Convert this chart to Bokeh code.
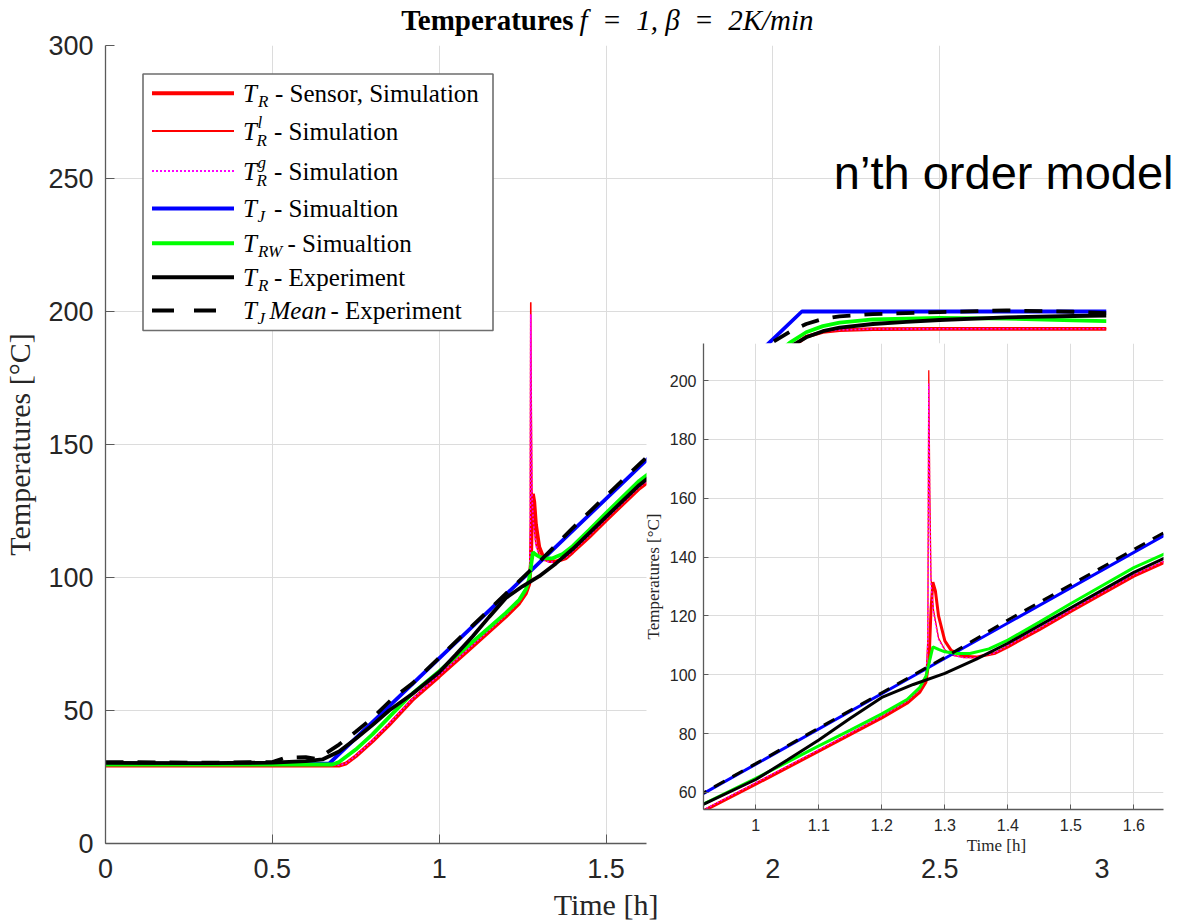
import numpy as np
from bokeh.plotting import figure
from bokeh.models import Range1d, FixedTicker, CustomJSTickFormatter, Label, Column
from bokeh.embed import file_html
from bokeh.resources import INLINE

# ---------------- data ----------------
t_TR = [0, 0.70, 0.72, 0.75, 0.80, 0.85, 0.92, 1.00, 1.10, 1.20, 1.24, 1.26, 1.27, 1.275, 1.278,
        1.281, 1.285, 1.29, 1.30, 1.31, 1.33, 1.35, 1.38, 1.40, 1.45, 1.50, 1.60, 1.65, 1.70,
        1.80, 1.90, 2.00, 2.05, 2.10, 2.15, 2.20, 2.30, 2.50, 3.00]
T_TR = [29.3, 29.3, 30.0, 32.8, 38.4, 44.6, 54.0, 62.8, 74.0, 85.3, 90.3, 94.0, 97.5, 105.0, 122.0,
        131.5, 128.5, 120.0, 111.5, 108.3, 106.3, 106.0, 107.3, 109.5, 115.3, 121.5, 133.5, 138.3, 144.0,
        156.0, 168.0, 180.3, 186.0, 190.5, 192.3, 193.0, 193.4, 193.5, 193.5]

t_TRl = [0, 0.70, 0.72, 0.75, 0.80, 0.85, 0.92, 1.00, 1.10, 1.20, 1.24, 1.26, 1.27, 1.273, 1.2745,
         1.276, 1.278, 1.282, 1.29, 1.30, 1.31, 1.33, 1.35, 1.38, 1.40, 1.45, 1.50, 1.60, 1.65,
         1.70, 1.80, 1.90, 2.00, 2.05, 2.10, 2.15, 2.20, 2.30, 2.50, 3.00]
T_TRl = [29.4, 29.4, 30.1, 33.0, 38.7, 45.0, 54.4, 63.3, 74.5, 85.9, 91.0, 95.0, 99.0, 112.0, 203.5,
         165.0, 133.0, 122.0, 112.5, 108.5, 106.8, 105.8, 105.8, 107.5, 109.9, 115.8, 122.0, 134.0, 138.8,
         144.6, 156.6, 168.6, 180.8, 186.4, 190.8, 192.5, 193.1, 193.4, 193.5, 193.5]
T_TRg = [29.4, 29.4, 30.1, 33.0, 38.7, 45.0, 54.4, 63.3, 74.5, 85.9, 91.0, 95.0, 99.0, 111.0, 199.0,
         160.0, 131.0, 121.0, 112.0, 108.3, 106.7, 105.8, 105.8, 107.5, 109.9, 115.8, 122.0, 134.0, 138.8,
         144.6, 156.6, 168.6, 180.8, 186.4, 190.8, 192.5, 193.1, 193.4, 193.5, 193.5]

t_TJ = [0, 0.67, 2.087, 3.0]
T_TJ = [30.0, 30.0, 200.0, 200.0]

t_TRW = [0, 0.68, 0.70, 0.75, 0.80, 0.85, 0.92, 1.00, 1.05, 1.10, 1.15, 1.20, 1.24, 1.26, 1.27, 1.275,
         1.281, 1.29, 1.30, 1.32, 1.34, 1.37, 1.40, 1.45, 1.50, 1.60, 1.65, 1.70, 1.80, 1.90, 2.00,
         2.05, 2.10, 2.15, 2.20, 2.30, 2.50, 2.70, 2.90, 3.00]
T_TRW = [29.7, 29.7, 30.6, 35.3, 41.0, 47.5, 56.4, 64.8, 70.3, 75.8, 81.2, 86.7, 91.6, 95.6, 99.5, 104.0,
         109.5, 108.6, 107.8, 107.2, 107.2, 108.8, 111.8, 117.9, 124.2, 136.4, 141.2, 147.0, 159.0, 171.0, 183.0,
         188.2, 192.2, 194.5, 195.8, 197.0, 197.6, 197.3, 196.7, 196.4]

t_EXP = [0, 0.30, 0.50, 0.60, 0.65, 0.70, 0.75, 0.80, 0.85, 0.92, 1.00, 1.05, 1.10, 1.15, 1.20, 1.25,
         1.30, 1.35, 1.40, 1.50, 1.60, 1.65, 1.70, 1.80, 1.90, 2.00, 2.05, 2.10, 2.15, 2.20, 2.30,
         2.40, 2.50, 2.70, 2.90, 3.00]
T_EXP = [30.3, 30.2, 30.4, 31.0, 31.6, 34.6, 39.4, 44.5, 50.0, 56.3, 64.4, 71.0, 77.8, 85.2, 92.3, 96.7,
         100.5, 105.3, 110.7, 122.8, 134.8, 139.8, 145.6, 157.6, 169.6, 181.3, 186.6, 190.3, 192.6, 193.9, 195.3,
         196.1, 196.8, 197.8, 198.3, 198.5]

t_TJM = [0, 0.30, 0.50, 0.54, 0.60, 0.63, 0.65, 0.70, 0.75, 0.80, 0.86, 0.92, 1.00, 1.10, 1.20, 1.30,
         1.40, 1.50, 1.60, 1.70, 1.80, 1.90, 2.00, 2.05, 2.10, 2.15, 2.20, 2.30, 2.40, 2.50, 2.70, 2.90, 3.00]
T_TJM = [30.6, 30.4, 30.6, 32.3, 32.5, 31.8, 33.0, 37.2, 42.0, 47.2, 54.5, 60.2, 69.8, 81.9, 93.9, 105.9,
         118.6, 130.6, 142.6, 154.6, 166.6, 178.3, 188.5, 192.3, 195.3, 197.2, 198.2, 199.0, 199.4, 199.8, 200.4, 199.9, 199.4]

main_xticks = [0, 0.5, 1, 1.5, 2, 2.5, 3]
main_yticks = [0, 50, 100, 150, 200, 250, 300]
inset_xticks = [1.0, 1.1, 1.2, 1.3, 1.4, 1.5, 1.6]
inset_yticks = [60, 80, 100, 120, 140, 160, 180, 200]

# ---------------- style ----------------
SERIF = "Liberation Serif"
SANS = "Liberation Sans"
RED, MAG, BLUE, GREEN, BLACK = "#ff0000", "#ff00ff", "#0000ff", "#00ff00", "#000000"
GRID = "#dcdcdc"
AXIS = "#5a5a5a"
TICKLAB = "#262626"
W, H = 1180, 921
LEFT = 104      # common left border (Bokeh aligns left borders inside a Column)
RIGHT = 3       # common right border

fmt = CustomJSTickFormatter(code="return String(Number(tick.toFixed(3)));")

# main frame geometry in pixels
FT, FW, FH = 45, 1001, 798
XR, YR = (0, 3), (0, 300)


def style_axes(p, xt, yt, tick_size, tick_in, xstand, ystand):
    p.xaxis.ticker = FixedTicker(ticks=xt)
    p.yaxis.ticker = FixedTicker(ticks=yt)
    p.xgrid.ticker = FixedTicker(ticks=xt)
    p.ygrid.ticker = FixedTicker(ticks=yt)
    p.xaxis.formatter = fmt
    for ax in (p.xaxis, p.yaxis):
        ax.major_tick_in = tick_in
        ax.major_tick_out = 0
        ax.minor_tick_in = 0
        ax.minor_tick_out = 0
        ax.axis_line_color = AXIS
        ax.major_tick_line_color = AXIS
        ax.axis_line_width = 1.3
        ax.major_label_text_font = SANS
        ax.major_label_text_font_size = tick_size
        ax.major_label_text_color = TICKLAB
        ax.axis_label_text_font = SERIF
        ax.axis_label_text_font_style = "normal"
        ax.axis_label_text_color = TICKLAB
    p.xaxis.major_label_standoff = xstand
    p.yaxis.major_label_standoff = ystand
    p.grid.grid_line_color = GRID
    p.grid.grid_line_width = 1
    p.outline_line_color = None


def draw_series(p, thick, thin, dash):
    p.line(t_TR, T_TR, line_color=RED, line_width=thick)
    p.line(t_TRl, T_TRl, line_color=RED, line_width=thin)
    p.line(t_TRl, T_TRg, line_color=MAG, line_width=thin, line_dash="2 2")
    p.line(t_TJ, T_TJ, line_color=BLUE, line_width=thick)
    p.line(t_TRW, T_TRW, line_color=GREEN, line_width=thick)
    p.line(t_EXP, T_EXP, line_color=BLACK, line_width=thick)
    p.line(t_TJM, T_TJM, line_color=BLACK, line_width=thick, line_dash=dash)


# ---------------- main figure ----------------
main = figure(frame_width=FW, frame_height=FH, x_range=Range1d(*XR), y_range=Range1d(*YR),
              output_backend="svg", toolbar_location=None,
              min_border_left=LEFT, min_border_top=FT, min_border_right=RIGHT,
              min_border_bottom=H - FT - FH, background_fill_color="white", border_fill_color="white")
style_axes(main, main_xticks, main_yticks, "27px", 9, 15, 12)
main.yaxis.axis_label = "Temperatures [°C]"
main.yaxis.axis_label_text_font_size = "30px"
main.yaxis.axis_label_standoff = 9
draw_series(main, 3.8, 1.6, "18 14")

# ---------------- white mask under the inset (covers main content in the inset area) ----------------
IX0, IY0, IW, IH = 645, 343, 520, 513      # inset area on the page
mask = figure(frame_width=IW, frame_height=IH, x_range=Range1d(0, 1), y_range=Range1d(0, 1),
              output_backend="svg", toolbar_location=None, x_axis_type=None, y_axis_type=None,
              min_border_left=LEFT, min_border_right=RIGHT, min_border_top=0, min_border_bottom=0,
              background_fill_color="white", border_fill_alpha=0)
mask.grid.visible = False
mask.outline_line_color = None

# ---------------- inset figure ----------------
IFX, IFW, IFH, IFB = 702, 460, 466, 47     # inset frame left (page px), frame size, bottom border
IXR, IYR = (0.917, 1.647), (54.2, 212.6)
ins = figure(frame_width=IFW, frame_height=IFH, x_range=Range1d(*IXR), y_range=Range1d(*IYR),
             output_backend="svg", toolbar_location=None,
             min_border_left=LEFT, min_border_right=RIGHT, min_border_top=0, min_border_bottom=IFB,
             background_fill_color="white", border_fill_alpha=0)
style_axes(ins, inset_xticks, inset_yticks, "16px", 5, 9, 7)
ins.yaxis.axis_label = "Temperatures [°C]"
ins.yaxis.axis_label_text_font_size = "17px"
ins.yaxis.axis_label_standoff = 4
draw_series(ins, 3.0, 1.3, "12 9")

# ---------------- overlay for free texts and the legend (page-pixel coordinates) ----------------
ov = figure(frame_width=W - LEFT - RIGHT, frame_height=H, x_range=Range1d(LEFT, W - RIGHT),
            y_range=Range1d(H, 0), output_backend="svg", toolbar_location=None,
            x_axis_type=None, y_axis_type=None,
            min_border_left=LEFT, min_border_right=RIGHT, min_border_top=0, min_border_bottom=0,
            background_fill_alpha=0, border_fill_alpha=0)
ov.grid.visible = False
ov.outline_line_color = None


def lab(px, py, text, size, style="normal", align="left", font=SERIF, color="#000000"):
    ov.add_layout(Label(x=px, y=py, text=text, text_font=font, text_font_size=size,
                        text_font_style=style, text_align=align, text_baseline="middle",
                        text_color=color))


# legend
LB_L, LB_R, LB_T, LB_B = 141.5, 491.5, 73.5, 330.0
ov.quad(left=[LB_L], right=[LB_R], top=[LB_T], bottom=[LB_B],
        fill_color="white", line_color="#6e6e6e", line_width=1.6)
leg_rows = [92.7, 130.5, 170.5, 208.0, 242.7, 276.7, 310.0]
leg_styles = [(RED, 4, None), (RED, 1.8, None), (MAG, 1.8, "2 2"), (BLUE, 4, None),
              (GREEN, 4, None), (BLACK, 4, None), (BLACK, 4, "22 20")]
for yy, (c, w, d) in zip(leg_rows, leg_styles):
    kw = dict(line_color=c, line_width=w)
    if d:
        kw["line_dash"] = d
    ov.line([150.5, 232.5], [yy, yy], **kw)

BIG, SUB = "25px", "17px"
TX = 241.5
for yy in leg_rows:
    lab(TX, yy, "T", BIG, "italic")
lab(256.5, leg_rows[0] + 8, "R", SUB, "italic")
lab(273.5, leg_rows[0], "- Sensor, Simulation", BIG)
lab(256.0, leg_rows[1] - 9, "l", SUB, "italic")
lab(255.0, leg_rows[1] + 9, "R", SUB, "italic")
lab(272.5, leg_rows[1], "- Simulation", BIG)
lab(256.0, leg_rows[2] - 9, "g", SUB, "italic")
lab(255.0, leg_rows[2] + 9, "R", SUB, "italic")
lab(272.5, leg_rows[2], "- Simulation", BIG)
lab(256.0, leg_rows[3] + 8, "J", SUB, "italic")
lab(272.5, leg_rows[3], "- Simualtion", BIG)
lab(256.5, leg_rows[4] + 8, "RW", SUB, "italic")
lab(286.0, leg_rows[4], "- Simualtion", BIG)
lab(256.5, leg_rows[5] + 8, "R", SUB, "italic")
lab(272.5, leg_rows[5], "- Experiment", BIG)
lab(256.0, leg_rows[6] + 8, "J", SUB, "italic")
lab(268.0, leg_rows[6], "Mean", BIG, "italic")
lab(329.0, leg_rows[6], "- Experiment", BIG)

# title, note, axis labels
lab(572, 19, "Temperatures", "29px", "bold", align="right")
lab(578, 19, "f\u2002=\u20021, β\u2002=\u20022K/min", "29px", "italic")
lab(1172, 172, "n’th order model", "47px", align="right", font=SANS)
lab(LEFT + FW / 2, 904, "Time [h]", "30px", align="center", color=TICKLAB)
lab(995, 845, "Time [h]", "17px", align="center", color=TICKLAB)

# ---------------- stack: main, mask, inset, overlay (negative top margins overlap them) ----------------
INS_H = IFH + IFB
mask.margin = (IY0 - H, 0, 0, IX0 - LEFT)
ins.margin = (IY0 - (IY0 + IH), 0, 0, IFX - LEFT)
ov.margin = (-(IY0 + INS_H), 0, 0, 0)
layout = Column(children=[main, mask, ins, ov], spacing=0)
open("out.html", "w").write(file_html(layout, INLINE))
